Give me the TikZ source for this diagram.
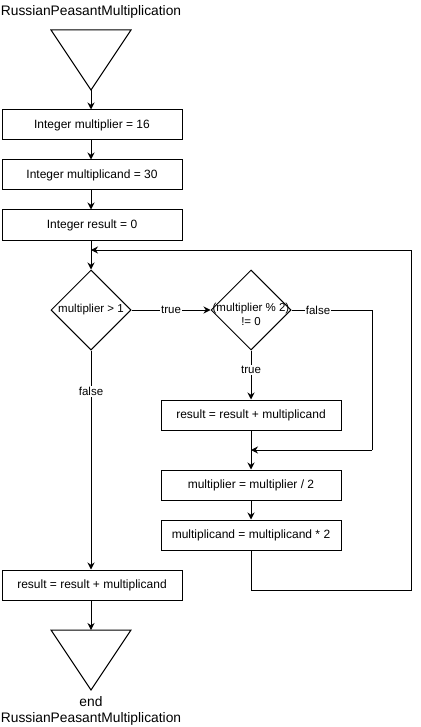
\documentclass[tikz,border=0pt]{standalone}
\usepackage{fontspec}
\setmainfont{Liberation Sans}
\usetikzlibrary{shapes.geometric,arrows.meta}
\begin{document}
\begin{tikzpicture}[x=1pt,y=-1pt,
  box/.style={draw, line width=1pt, minimum width=180pt, minimum height=30pt, inner sep=0pt, font=\fontsize{12}{14}\selectfont},
  dia/.style={draw, diamond, line width=1pt, minimum width=80pt, minimum height=80pt, inner sep=0pt, aspect=1},
  arr/.style={line width=1pt, -{Stealth[length=7pt,width=7pt]}},
  ln/.style={line width=1pt},
  lbl/.style={fill=white, inner sep=1pt, font=\fontsize{11.5}{13}\selectfont},
  dtxt/.style={font=\fontsize{11.5}{14}\selectfont, align=center, inner sep=0pt},
  ttl/.style={font=\fontsize{13.8}{16}\selectfont, align=center, inner sep=0pt}
]
\useasboundingbox (0,0) rectangle (420,727);
% title
\node[ttl] (title) at (91,12) {RussianPeasantMultiplication};
% start triangle
\draw[ln] (51,30) -- (131,30) -- (91,90) -- cycle;
\coordinate (startapex) at (91,90);
% boxes
\node[box] (b1) at (92,125) {Integer multiplier = 16};
\node[box] (b2) at (92,175) {Integer multiplicand = 30};
\node[box] (b3) at (92,225) {Integer result = 0};
\node[dia] (d1) at (91,310) {};
\node[dtxt] (d1t) at (91,310) {multiplier > 1};
\node[dia] (d2) at (251,310) {};
\node[dtxt] (d2t) at (251,314) {(multiplier \% 2)\\!= 0};
\node[box] (b4) at (251,415) {result = result + multiplicand};
\node[box] (b5) at (251,485) {multiplier = multiplier / 2};
\node[box] (b6) at (251,535) {multiplicand = multiplicand * 2};
\node[box] (b7) at (92,585) {result = result + multiplicand};
% end triangle
\draw[ln] (51,630) -- (131,630) -- (91,690) -- cycle;
\coordinate (endtop) at (91,630);
\node[ttl] (endlbl) at (91,711) {end\\RussianPeasantMultiplication};
% junctions
\coordinate (j1) at (91,250);
\coordinate (j2) at (251,450);
% connectors
\draw[arr] (startapex) -- (b1.north -| startapex);
\draw[arr] (b1.south -| startapex) -- (b2.north -| startapex);
\draw[arr] (b2.south -| startapex) -- (b3.north -| startapex);
\draw[arr] (b3.south -| startapex) -- (d1.north);
\draw[arr] (d1.east) -- node[lbl] (ltrue1) {true} (d2.west);
\draw[arr] (d2.south) -- node[lbl, pos=0.4] (ltrue2) {true} (b4.north);
\draw[ln] (d2.east) -- (372,310) -- (372,450);
\draw[arr] (372,450) -- (j2);
\node[lbl] (lfalse2) at (318,310) {false};
\draw[ln] (b4.south) -- (j2);
\draw[arr] (j2) -- (b5.north);
\draw[arr] (b5.south) -- (b6.north);
\draw[ln] (b6.south) -- (251,590) -- (411,590) -- (411,250);
\draw[arr] (411,250) -- (j1);
\draw[arr] (d1.south) -- node[lbl, pos=0.187] (lfalse1) {false} (b7.north -| d1.south);
\draw[arr] (b7.south -| endtop) -- (endtop);
\end{tikzpicture}
\end{document}
